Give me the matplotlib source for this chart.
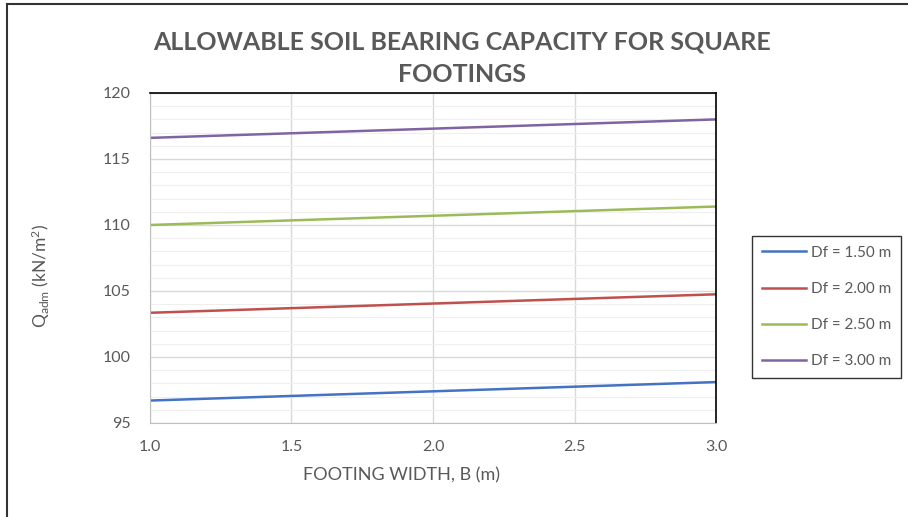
import matplotlib
matplotlib.use("Agg")
import matplotlib.pyplot as plt
from matplotlib.lines import Line2D

plt.rcParams['font.family'] = ['Lato', 'DejaVu Sans']
plt.rcParams['mathtext.fontset'] = 'custom'
plt.rcParams['mathtext.rm'] = 'Lato'
plt.rcParams['mathtext.it'] = 'Lato'

# footing width B (m)
widths = [1.0, 1.5, 2.0, 2.5, 3.0]

# allowable bearing capacity (kN/m2) for each embedment depth
q_df150 = [96.7, 97.05, 97.4, 97.75, 98.1]
q_df200 = [103.35, 103.7, 104.05, 104.4, 104.75]
q_df250 = [110.0, 110.35, 110.7, 111.05, 111.4]
q_df300 = [116.6, 116.95, 117.3, 117.65, 118.0]

labels = ['Df = 1.50 m', 'Df = 2.00 m', 'Df = 2.50 m', 'Df = 3.00 m']
colors = ['#4472C4', '#C0504D', '#9BBB59', '#8064A2']
grey = '#595959'

fig = plt.figure(figsize=(9.08, 5.17), dpi=100)
ax = fig.add_axes([150 / 908, 1 - 423 / 517, 566 / 908, 330 / 517])

for q, lab, col in zip([q_df150, q_df200, q_df250, q_df300], labels, colors):
    ax.plot(widths, q, color=col, lw=1.8, label=lab)

ax.set_xlim(1.0, 3.0)
ax.set_ylim(95, 120)
ax.set_xticks([1.0, 1.5, 2.0, 2.5, 3.0])
ax.set_xticklabels(['1.0', '1.5', '2.0', '2.5', '3.0'])
ax.set_yticks(range(95, 121, 5))
ax.set_yticks(range(95, 121, 1), minor=True)
ax.grid(True, which='major', color='#D9D9D9', lw=1.0)
ax.grid(True, which='minor', axis='y', color='#EFEFEF', lw=0.8)
ax.set_axisbelow(True)
ax.tick_params(which='both', length=0, labelsize=11.5, colors=grey)
ax.tick_params(axis='y', pad=14)
ax.tick_params(axis='x', pad=12)

for side in ['left', 'bottom']:
    ax.spines[side].set_color('#BFBFBF')
for side in ['top', 'right']:
    ax.spines[side].set_color('black')
    ax.spines[side].set_linewidth(1.2)

ax.set_xlabel('FOOTING WIDTH, B (m)', fontsize=13, color=grey)
ax.xaxis.set_label_coords((402 - 150) / 566, -(467 - 423) / 330)
ax.set_ylabel(r'Q$_{\mathrm{adm}}$ (kN/m$^{2}$)', fontsize=12.5, color=grey)
ax.yaxis.set_label_coords(-(150 - 52) / 566, (423 - 276) / 330)

fig.text(462 / 908, 1 - 58 / 517, 'ALLOWABLE SOIL BEARING CAPACITY FOR SQUARE\nFOOTINGS',
         ha='center', va='center', fontsize=18, fontweight='bold', color=grey,
         linespacing=1.5)

leg = ax.legend(loc='center left', bbox_to_anchor=(752 / 908, 1 - 307 / 517),
                bbox_transform=fig.transFigure, frameon=True, fancybox=False,
                edgecolor='black', fontsize=11, handlelength=2.9, handletextpad=0.3,
                labelspacing=1.45, borderpad=0.65, borderaxespad=0)
leg.get_frame().set_linewidth(1.0)
for t in leg.get_texts():
    t.set_color(grey)

# outer frame of the picture
fig.add_artist(Line2D([7 / 908, 7 / 908], [0, 1 - 4 / 517], transform=fig.transFigure,
                      color='#333333', lw=1.5))
fig.add_artist(Line2D([7 / 908, 1], [1 - 4 / 517, 1 - 4 / 517], transform=fig.transFigure,
                      color='#333333', lw=1.5))

fig.savefig('out.png', dpi=100)
